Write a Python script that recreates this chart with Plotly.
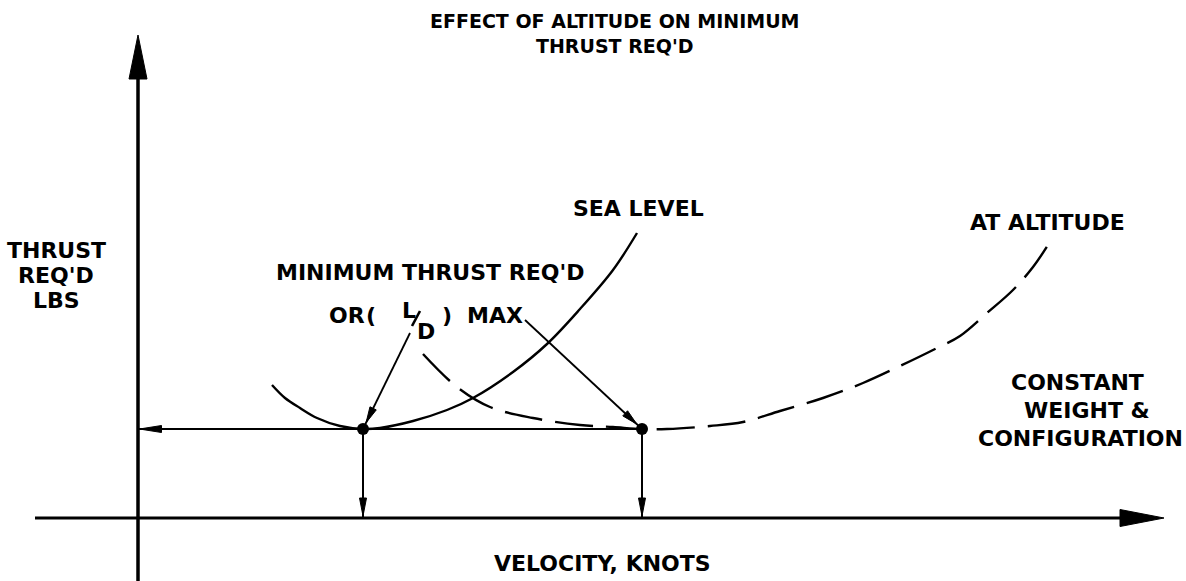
import numpy as np
import plotly.graph_objects as go

# Thrust required vs. velocity (arbitrary units, origin at the axes crossing)
sea_velocity = [134, 147, 162, 179, 202, 225, 242, 275, 309, 335, 375, 409, 442, 475, 499]
sea_thrust = [133, 120, 110, 100, 92, 89, 90, 97, 108, 120, 146, 174, 209, 248, 285]

alt_velocity = [285, 319, 352, 395, 442, 475, 504, 529, 572, 605, 642, 685, 725, 762,
                799, 822, 849, 875, 895, 910]
alt_thrust = [164, 131, 111, 100, 93, 91, 89, 89, 92, 96, 107, 120, 135, 152,
              170, 182, 205, 228, 251, 273]

curve_names = ["SEA LEVEL", "AT ALTITUDE"]

# minimum thrust point of each curve
i_sea = int(np.argmin(sea_thrust))
i_alt = int(np.argmin(alt_thrust))
min_v = [sea_velocity[i_sea], alt_velocity[i_alt]]
min_t = [sea_thrust[i_sea], alt_thrust[i_alt]]

X_RANGE = [-138, 1048]
Y_RANGE = [-63, 518]
INK = "black"
FONT = dict(family="DejaVu Sans", size=22, color=INK, weight="bold")

fig = go.Figure()

fig.add_trace(go.Scatter(x=sea_velocity, y=sea_thrust, mode="lines", name=curve_names[0],
                         line=dict(color=INK, width=2.4, shape="spline")))
fig.add_trace(go.Scatter(x=alt_velocity, y=alt_thrust, mode="lines", name=curve_names[1],
                         line=dict(color=INK, width=2.4, shape="spline", dash="38px,13px")))
fig.add_trace(go.Scatter(x=min_v, y=min_t, mode="markers",
                         marker=dict(color=INK, size=12)))

shapes = []


def seg(x0, y0, x1, y1, w=2):
    shapes.append(dict(type="line", x0=x0, y0=y0, x1=x1, y1=y1, xref="x", yref="y",
                       line=dict(color=INK, width=w)))


def head(tip, frm, length, hw):
    """Filled arrowhead whose point is at tip, aimed away from frm."""
    tx, ty = tip
    dx, dy = tx - frm[0], ty - frm[1]
    n = (dx * dx + dy * dy) ** 0.5
    ux, uy = dx / n, dy / n
    bx, by = tx - ux * length, ty - uy * length
    px, py = -uy * hw, ux * hw
    path = (f"M{tx},{ty} L{bx + px},{by + py} L{bx - px},{by - py} Z")
    shapes.append(dict(type="path", path=path, xref="x", yref="y",
                       fillcolor=INK, line=dict(color=INK, width=1)))


# thrust axis (extends below the velocity axis)
seg(0, Y_RANGE[0], 0, 445, w=3.5)
head((0, 483), (0, 0), 44, 9)
# velocity axis
seg(-103, 0, 985, 0, w=3)
head((1026, 0), (0, 0), 44, 8.5)

# minimum thrust line back to the thrust axis
seg(min_v[1], min_t[1], 0, min_t[1], w=2)
head((1.5, min_t[1]), (min_v[1], min_t[1]), 22, 3.5)

# drop lines from each minimum to the velocity axis
for v, t in zip(min_v, min_t):
    seg(v, t, v, 0, w=2)
    head((v, 2), (v, t), 18, 3.5)

# leader arrows from the label to the two minima
leader_starts = [(272, 185), (387, 198)]
for (sx, sy), v, t in zip(leader_starts, min_v, min_t):
    seg(sx, sy, v, t, w=1.8)
    dx, dy = v - sx, t - sy
    n = (dx * dx + dy * dy) ** 0.5
    tip = (v - dx / n * 7, t - dy / n * 7)
    head(tip, (sx, sy), 16, 3.5)

# fraction bar of L/D
seg(282, 207, 274, 192, w=2.6)

annotations = []


def label(x, y, text, size=22, anchor="center"):
    annotations.append(dict(x=x, y=y, xref="x", yref="y", text=text, showarrow=False,
                            xanchor=anchor, yanchor="middle", align="center",
                            font=dict(FONT, size=size)))


label(477, 485, "EFFECT OF ALTITUDE ON MINIMUM<br>THRUST REQ'D", size=19)

label(-82, 268, "THRUST")
label(-82, 243, "REQ'D")
label(-82, 218, "LBS")

label(292, 246, "MINIMUM THRUST REQ'D")
label(209, 203, "OR")
label(233, 203, "(")
label(271, 208, "L")
label(288, 187, "D")
label(309, 203, ")")
label(357, 203, "MAX")

label(500, 310, curve_names[0])
label(909, 296, curve_names[1])

label(939, 136, "CONSTANT")
label(949, 108, "WEIGHT &")
label(942, 80, "CONFIGURATION")

label(464, -45, "VELOCITY, KNOTS")

fig.update_layout(
    width=1186, height=581,
    margin=dict(l=0, r=0, t=0, b=0),
    paper_bgcolor="white", plot_bgcolor="white",
    showlegend=False,
    xaxis=dict(range=X_RANGE, visible=False, fixedrange=True),
    yaxis=dict(range=Y_RANGE, visible=False, fixedrange=True),
    shapes=shapes,
    annotations=annotations,
)

fig.write_html("out.html")
